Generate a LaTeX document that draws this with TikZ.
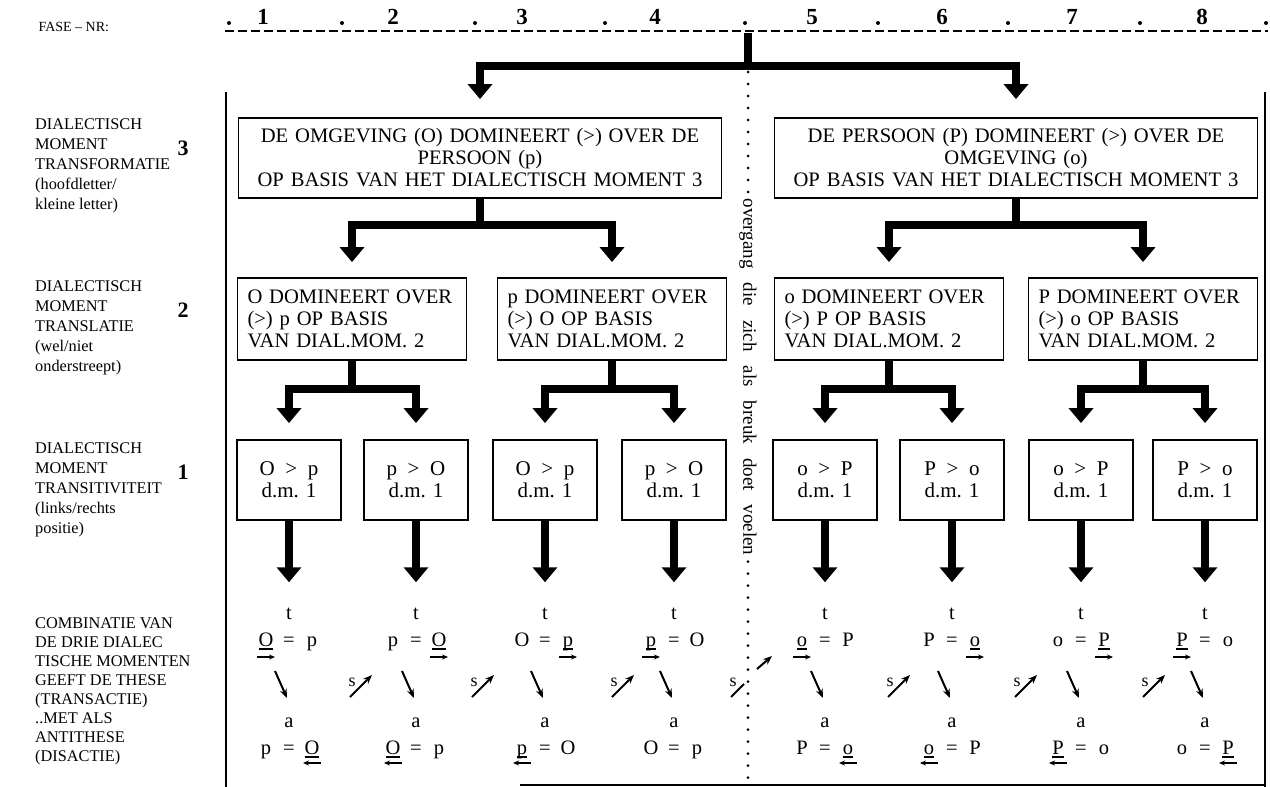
\documentclass[tikz,border=0pt]{standalone}
\usepackage{fontspec}
\setmainfont{Liberation Serif}
\usetikzlibrary{arrows.meta}

% onderstreepte letter
\newcommand{\ond}[1]{\setbox0\hbox{#1}\rlap{\rule[-3.5pt]{\wd0}{1.2pt}}\box0}

\begin{document}
\begin{tikzpicture}[x=1pt, y=-1pt,
  kader/.style={draw, line width=1.8pt, inner xsep=10pt, inner ysep=0pt, font=\fontsize{20.6}{22}\selectfont},
  groot/.style={kader, text width=463pt, minimum height=80pt, align=center},
  midden/.style={kader, text width=209pt, minimum height=82pt, align=left},
  klein/.style={kader, minimum width=104pt, minimum height=80pt, align=center, inner xsep=0pt, font=\fontsize{21}{22}\selectfont},
  pijl/.style={line width=8pt, -{Triangle[width=24pt,length=15pt]}},
  rij/.style={anchor=north west, align=left, inner sep=0pt, font=\fontsize{16.3}{20}\selectfont},
  cijfer/.style={inner sep=0pt, font=\fontsize{22}{22}\selectfont\bfseries},
  letter/.style={anchor=base, inner sep=0pt, font=\fontsize{20.5}{20}\selectfont},
  mini/.style={line width=1.2pt, -{Stealth[length=6pt,width=5pt]}},
  schuin/.style={line width=2pt, -{Stealth[length=9pt,width=7pt]}},
  stip/.style={line width=3pt, line cap=round, dash pattern=on 0pt off 12pt}]
  \useasboundingbox (0,0) rectangle (1270,787);

  % kop: fasenummers
  \node[anchor=west, font=\fontsize{14}{14}\selectfont] (fase) at (35,27) {FASE – NR:};
  \draw[line width=2pt, dash pattern=on 9pt off 4pt] (225,31) -- (1268,31);
  \foreach \n/\x in {1/263, 2/393, 3/522, 4/655, 5/812, 6/942, 7/1072, 8/1202}
    \node[cijfer, font=\fontsize{23}{23}\selectfont\bfseries] (nr\n) at (\x,17) {\n};
  \foreach \x in {229, 342, 475, 605, 745, 878, 1008, 1140, 1266}
    \fill (\x,23) circle (2pt);
  \coordinate (wortel) at (748,33);

  % kader
  \draw[line width=2.5pt] (226,92) -- (226,787);
  \draw[line width=2pt] (1265,92) -- (1265,787);
  \draw[line width=1.5pt] (520,785) -- (1265,785);

  % linker kolom
  \node[rij] (m3) at (35,119) {DIALECTISCH\\MOMENT\\TRANSFORMATIE\\(hoofdletter/\\kleine letter)};
  \node[cijfer] (c3) at (183,148) {3};
  \node[rij] (m2) at (35,281) {DIALECTISCH\\MOMENT\\TRANSLATIE\\(wel/niet\\onderstreept)};
  \node[cijfer] (c2) at (183,310) {2};
  \node[rij] (m1) at (35,443) {DIALECTISCH\\MOMENT\\TRANSITIVITEIT\\(links/rechts\\positie)};
  \node[cijfer] (c1) at (183,472) {1};
  \node[rij, font=\fontsize{16.3}{19}\selectfont] (comb) at (35,618)
    {COMBINATIE VAN\\DE DRIE DIALEC\\TISCHE MOMENTEN\\GEEFT DE THESE\\(TRANSACTIE)\\..MET ALS\\ANTITHESE\\(DISACTIE)};

  % dialectisch moment 3
  \node[groot] (oL) at (480,158) {DE OMGEVING (O) DOMINEERT (>) OVER DE\\PERSOON (p)\\OP BASIS VAN HET DIALECTISCH MOMENT 3};
  \node[groot] (oR) at (1016,158) {DE PERSOON (P) DOMINEERT (>) OVER DE\\OMGEVING (o)\\OP BASIS VAN HET DIALECTISCH MOMENT 3};
  % dialectisch moment 2
  \node[midden] (mA) at (352,319) {O DOMINEERT OVER\\(>) p OP BASIS\\VAN DIAL.MOM. 2};
  \node[midden] (mB) at (612,319) {p DOMINEERT OVER\\(>) O OP BASIS\\VAN DIAL.MOM. 2};
  \node[midden] (mC) at (889,319) {o DOMINEERT OVER\\(>) P OP BASIS\\VAN DIAL.MOM. 2};
  \node[midden] (mD) at (1143,319) {P DOMINEERT OVER\\(>) o OP BASIS\\VAN DIAL.MOM. 2};
  % dialectisch moment 1
  \foreach \i/\x/\l/\r in {1/289/O/p, 2/416/p/O, 3/545/O/p, 4/674/p/O,
                           5/825/o/P, 6/952/P/o, 7/1081/o/P, 8/1205/P/o}
    \node[klein] (k\i) at (\x,480) {\l\enspace>\enspace\r\\d.m. 1};

  % vertakkingen
  \draw[pijl, shorten >=18pt] (wortel) -- ++(0,33) -| (oL.north);
  \draw[pijl, shorten >=18pt] (wortel) -- ++(0,33) -| (oR.north);
  \foreach \p/\a/\b in {oL/mA/mB, oR/mC/mD} {
    \draw[pijl, shorten >=15pt] (\p.south) -- ++(0,26) -| (\a.north);
    \draw[pijl, shorten >=15pt] (\p.south) -- ++(0,26) -| (\b.north);
  }
  \foreach \p/\a/\b in {mA/k1/k2, mB/k3/k4, mC/k5/k6, mD/k7/k8} {
    \draw[pijl, shorten >=16pt] (\p.south) -- ++(0,28) -| (\a.north);
    \draw[pijl, shorten >=16pt] (\p.south) -- ++(0,28) -| (\b.north);
  }

  % these en antithese
  \foreach \i/\cx/\la/\ra/\sa/\lb/\rb in {
      1/289/\ond{O}/p/-23/p/\ond{O},
      2/416/p/\ond{O}/23/\ond{O}/p,
      3/545/O/\ond{p}/23/\ond{p}/O,
      4/674/\ond{p}/O/-23/O/p,
      5/825/\ond{o}/P/-23/P/\ond{o},
      6/952/P/\ond{o}/23/\ond{o}/P,
      7/1081/o/\ond{P}/23/\ond{P}/o,
      8/1205/\ond{P}/o/-23/o/\ond{P}} {
    \node[letter] (t\i) at (\cx,619) {t};
    \node[letter] (tl\i) at (\cx-23,646) {\la};
    \node[letter] (te\i) at (\cx,646) {=};
    \node[letter] (tr\i) at (\cx+23,646) {\ra};
    \draw[mini] (\cx+\sa-9,657) -- ++(18,0);
    \draw[schuin] (\cx-14,671) -- (\cx-2,698);
    \node[letter] (a\i) at (\cx,727) {a};
    \node[letter] (bl\i) at (\cx-23,754) {\lb};
    \node[letter] (be\i) at (\cx,754) {=};
    \node[letter] (br\i) at (\cx+23,754) {\rb};
    \draw[pijl, shorten >=25pt] (k\i.south) -- (t\i.north);
  }
  \foreach \cx/\sb in {289/23, 416/-23, 545/-23, 825/23, 952/-23, 1081/-23, 1205/23}
    \draw[mini] (\cx+\sb+9,763) -- ++(-18,0);
  % synthese-pijlen
  \foreach \j/\sx in {2/350, 3/472, 4/612, 6/888, 7/1015, 8/1143} {
    \node[letter, font=\fontsize{18}{18}\selectfont] (s\j) at (\sx+2,686) {s};
    \draw[schuin] (\sx,697) -- (\sx+22,675);
  }
  \node[letter, font=\fontsize{18}{18}\selectfont] (s5) at (733,686) {s};
  \draw[line width=2pt] (731,697) -- (744,684);
  \draw[schuin] (757,669) -- (772,656);

  % overgang
  \node[rotate=-90, inner sep=6pt, font=\fontsize{19}{19}\selectfont] (breuk) at (748,377)
    {\spaceskip=14pt plus 1pt overgang die zich als breuk doet voelen};
  \draw[stip] (748,72) -- (breuk.west);
  \draw[stip] (breuk.east) -- (748,785);
\end{tikzpicture}
\end{document}
